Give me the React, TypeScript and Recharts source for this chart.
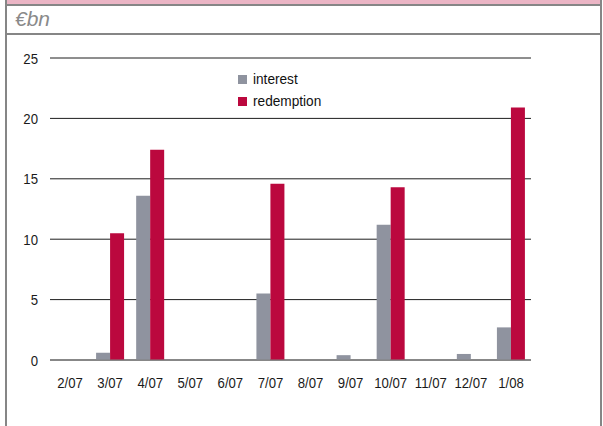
import React from 'react';
import { BarChart, Bar, XAxis, YAxis, CartesianGrid, Legend } from 'recharts';

const months = ['2/07', '3/07', '4/07', '5/07', '6/07', '7/07', '8/07', '9/07', '10/07', '11/07', '12/07', '1/08'];
const interest = [0, 0.6, 13.6, 0, 0, 5.5, 0, 0.4, 11.2, 0, 0.5, 2.7];
const redemption = [0, 10.5, 17.4, 0, 0, 14.6, 0, 0, 14.3, 0, 0, 20.9];
const yTicks = [0, 5, 10, 15, 20, 25];

const data = months.map((m, i) => ({ month: m, interest: interest[i], redemption: redemption[i] }));

const FONT = '"Liberation Sans", Arial, sans-serif';
const GREY = '#8f939f';
const RED = '#bb083e';
const BORDER = '#868686';

// narrow-looking tick text: squeeze Liberation Sans horizontally
const NarrowTick = (props: any) => {
  const { x, y, payload, textAnchor, shift } = props;
  return (
    <text
      transform={`translate(${x},${y}) scale(0.85,1)`}
      textAnchor={textAnchor}
      dy={shift}
      fill="#1a1a1a"
      fontFamily={FONT}
      fontSize={15.5}
    >
      {payload.value}
    </text>
  );
};

const LegendList = (props: any) => {
  const items = props.payload || [];
  return (
    <div style={{ fontFamily: FONT, fontSize: 15.5, color: '#111' }}>
      {items.map((it: any) => (
        <div key={it.value} style={{ display: 'flex', alignItems: 'center', height: 22 }}>
          <span style={{ width: 9, height: 9, background: it.color, marginRight: 6, display: 'inline-block' }} />
          <span style={{ display: 'inline-block', transform: 'scaleX(0.88)', transformOrigin: 'left center' }}>{it.value}</span>
        </div>
      ))}
    </div>
  );
};

const App: React.FC = () => {
  return (
    <div style={{ position: 'absolute', left: 0, top: 0, width: 603, height: 426, background: '#fff', overflow: 'hidden' }}>
      {/* header band and frame */}
      <div style={{ position: 'absolute', left: 5, top: 0, width: 596, height: 4, background: '#ebb5c5' }} />
      <div style={{ position: 'absolute', left: 5, top: 4, width: 597, height: 2, background: BORDER }} />
      <div style={{ position: 'absolute', left: 5, top: 33, width: 597, height: 2, background: BORDER }} />
      <div style={{ position: 'absolute', left: 5, top: 0, width: 2, height: 426, background: BORDER }} />
      <div style={{ position: 'absolute', left: 600, top: 0, width: 2, height: 426, background: BORDER }} />
      <div
        style={{
          position: 'absolute',
          left: 15,
          top: 7,
          fontFamily: FONT,
          fontStyle: 'italic',
          fontSize: 21,
          color: '#8a8a8a',
        }}
      >
        €bn
      </div>

      <div style={{ position: 'absolute', left: 0, top: 0 }}>
        <BarChart
          width={603}
          height={426}
          data={data}
          margin={{ top: 58, right: 72, bottom: 36, left: 0 }}
          barGap={0}
          barSize={14}
        >
          <CartesianGrid vertical={false} stroke="#1e1e1e" strokeWidth={1} />
          <XAxis
            dataKey="month"
            height={30}
            tickLine={false}
            tickSize={0}
            tickMargin={17}
            stroke="#808080"
            interval={0}
            tick={<NarrowTick shift="0.71em" />}
          />
          <YAxis
            width={50}
            domain={[0, 25]}
            ticks={yTicks}
            axisLine={false}
            tickLine={false}
            tickSize={0}
            tickMargin={12}
            tick={<NarrowTick shift="0.355em" />}
          />
          <Legend
            layout="vertical"
            align="center"
            verticalAlign="middle"
            wrapperStyle={{ top: 68, left: 238, width: 'auto' }}
            content={<LegendList />}
          />
          <Bar dataKey="interest" name="interest" fill={GREY} isAnimationActive={false} />
          <Bar dataKey="redemption" name="redemption" fill={RED} isAnimationActive={false} />
        </BarChart>
      </div>
    </div>
  );
};

export default App;
